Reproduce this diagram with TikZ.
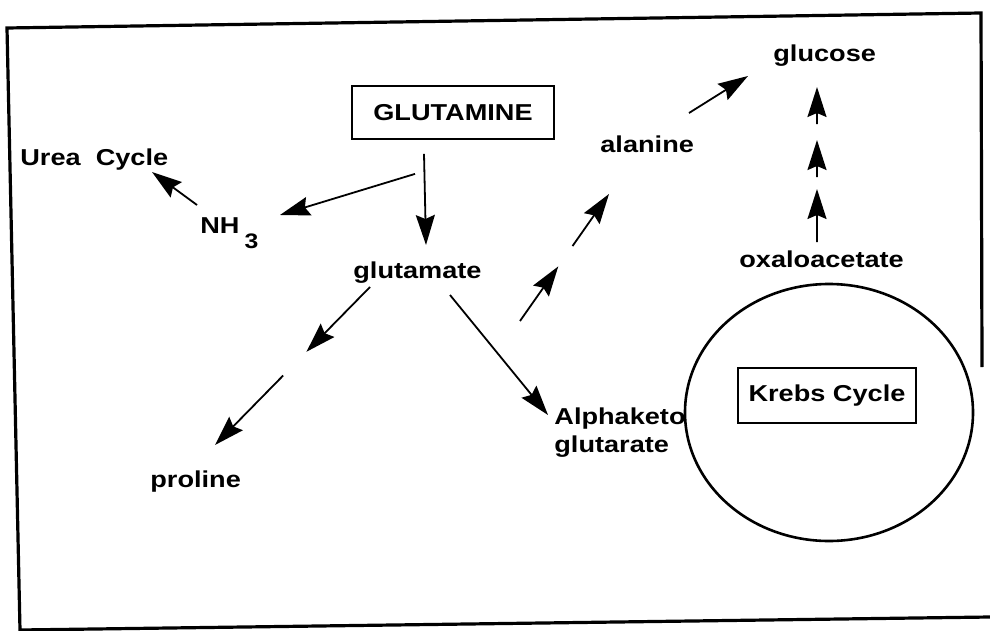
\documentclass[tikz,border=0pt]{standalone}
\usepackage{fontspec}
\setmainfont{Liberation Sans}[FakeStretch=1.18]
\usetikzlibrary{arrows.meta,calc,shapes.geometric}

\begin{document}
\begin{tikzpicture}[x=0.5pt,y=-0.5pt,
	lbl/.style={inner sep=0pt,anchor=base west,font=\fontsize{11.5}{14}\selectfont\bfseries},
	boxed/.style={draw,line width=0.9pt,inner sep=0pt,font=\fontsize{11.5}{14}\selectfont\bfseries},
	arr/.style={line width=0.9pt,-{Stealth[length=15pt,width=9.5pt,inset=2pt]}}]
	\useasboundingbox (0,0) rectangle (990,631);
	% frame
	\draw[line width=1.6pt] (982,367) -- (981,13) -- (7,28) -- (20,630) -- (990,617);
	% boxes and the ring
	\node[boxed,minimum width=101pt,minimum height=26.5pt] (gln) at (453,112.5) {GLUTAMINE};
	\node[draw,ellipse,line width=1.3pt,inner sep=0pt,minimum width=144pt,minimum height=128.5pt] (ring) at (829,412.5) {};
	\node[boxed,minimum width=89pt,minimum height=27.5pt] (krebs) at (827,395.5) {Krebs Cycle};
	% labels
	\node[lbl] (urea) at (20,165) {Urea\ \ Cycle};
	\node[lbl] (nh3) at (200,233) {NH\kern2.5pt\raisebox{-7.5pt}{\fontsize{10.5}{12}\selectfont 3}};
	\node[lbl] (glu) at (353,278) {glutamate};
	\node[lbl] (pro) at (150,487) {proline};
	\node[lbl,align=left] (akg) at (554,452) {Alphaketo\\glutarate};
	\node[lbl] (ala) at (600,152) {alanine};
	\node[lbl] (gls) at (773,62) {glucose};
	\node[lbl] (oxa) at (739,267) {oxaloacetate};
	% arrows
	\draw[arr] ($(gln.south)+(-38,34)$) -- ($(nh3.base west)+(80,-18)$);
	\draw[arr] ($(nh3.base west)+(-3,-28)$) -- ($(urea.base west)+(132,7)$);
	\draw[arr] ($(gln.south)+(-29,14)$) -- ($(glu.base west)+(73,-33)$);
	\draw[arr] ($(glu.base west)+(97,17)$) -- ($(akg.base west)+(-6,-37)$);
	\draw[arr] ($(ala.base west)+(89,-39)$) -- ($(gls.base west)+(-25,14)$);
	% broken arrows
	\coordinate (gluSW) at ($(glu.base west)+(17,9)$);
	\coordinate (proNE) at ($(pro.base west)+(65,-42)$);
	\draw[arr] (gluSW) -- ($(gluSW)!.41!(proNE)$);
	\draw[arr] ($(gluSW)!.56!(proNE)$) -- (proNE);
	\coordinate (gluSE) at ($(glu.base west)+(167,43)$);
	\coordinate (alaS) at ($(ala.base west)+(9,42)$);
	\draw[arr] (gluSE) -- ($(gluSE)!.43!(alaS)$);
	\draw[arr] ($(gluSE)!.59!(alaS)$) -- (alaS);
	\coordinate (oxaN) at ($(oxa.base west)+(78,-25)$);
	\coordinate (glsS) at ($(gls.base west)+(44,25)$);
	\foreach \a/\b in {0/.342,.419/.658,.761/1}
		\draw[arr] ($(oxaN)!\a!(glsS)$) -- ($(oxaN)!\b!(glsS)$);
\end{tikzpicture}
\end{document}
